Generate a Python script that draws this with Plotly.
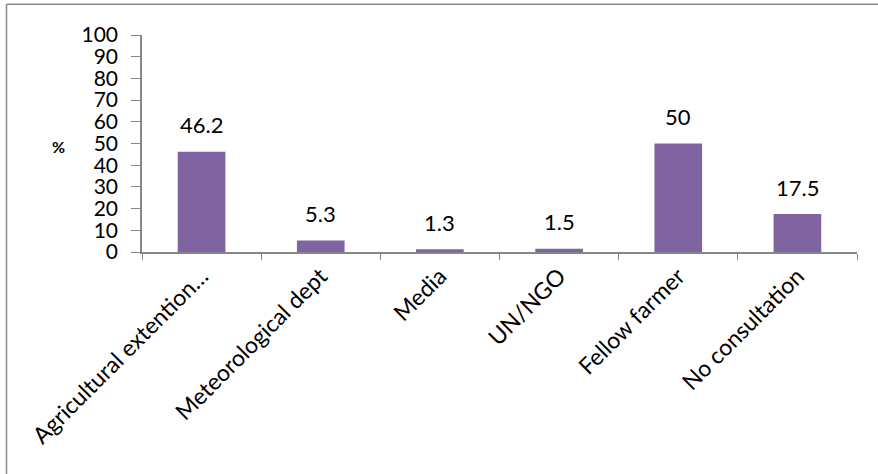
import plotly.graph_objects as go

categories = ["Agricultural extention…", "Meteorological dept", "Media", "UN/NGO", "Fellow farmer", "No consultation"]
values = [46.2, 5.3, 1.3, 1.5, 50, 17.5]
value_labels = ["46.2", "5.3", "1.3", "1.5", "50", "17.5"]
y_ticks = [0, 10, 20, 30, 40, 50, 60, 70, 80, 90, 100]

FONT = "Lato, Carlito, Calibri, sans-serif"
AXIS = "#868686"

W, H = 878, 474
L, R, T, B = 142, 21, 35, 222
pw, ph = W - L - R, H - T - B

fig = go.Figure()
fig.add_trace(go.Bar(
    x=categories, y=values, width=0.4,
    marker=dict(color="#8064A2", line=dict(width=0)),
    hoverinfo="x+y",
))

for c, v, t in zip(categories, values, value_labels):
    fig.add_annotation(x=c, y=v, text=t, showarrow=False, yanchor="middle",
                       yshift=27, font=dict(family=FONT, size=22, color="#000000"))

fig.add_annotation(xref="paper", yref="paper", x=(50 - L) / pw, y=(T + ph - 146) / ph,
                   text="<b>%</b>", showarrow=False, font=dict(family=FONT, size=16, color="#000000"))

def px_x(p):
    return (p - L) / pw

def px_y(p):
    return (T + ph - p) / ph

fig.add_shape(type="line", xref="paper", yref="paper",
              x0=px_x(6.5), x1=px_x(W + 2), y0=px_y(4.3), y1=px_y(4.3),
              line=dict(color="#8a8a8a", width=1.5))
fig.add_shape(type="line", xref="paper", yref="paper",
              x0=px_x(6.5), x1=px_x(6.5), y0=px_y(4.3), y1=px_y(H + 2),
              line=dict(color="#8a8a8a", width=1.5))

fig.update_layout(
    width=W, height=H,
    margin=dict(l=L, r=R, t=T, b=B, autoexpand=False),
    paper_bgcolor="white", plot_bgcolor="white",
    showlegend=False,
    bargap=0.6,
    font=dict(family=FONT, color="#000000"),
    xaxis=dict(
        type="category", tickangle=-45, tickson="boundaries",
        ticks="outside", ticklen=6, tickcolor=AXIS, tickwidth=1,
        showline=True, linecolor=AXIS, linewidth=1.5,
        showgrid=False, zeroline=False,
        tickfont=dict(family=FONT, size=23, color="#000000"),
    ),
    yaxis=dict(
        range=[0, 100], tickvals=y_ticks, ticktext=[str(v) for v in y_ticks],
        ticks="outside", ticklen=9, tickcolor=AXIS, tickwidth=1,
        showline=True, linecolor=AXIS, linewidth=1.5,
        showgrid=False, zeroline=False, ticklabelstandoff=9,
        tickfont=dict(family=FONT, size=21, color="#000000"),
    ),
)

fig.write_html("out.html")
